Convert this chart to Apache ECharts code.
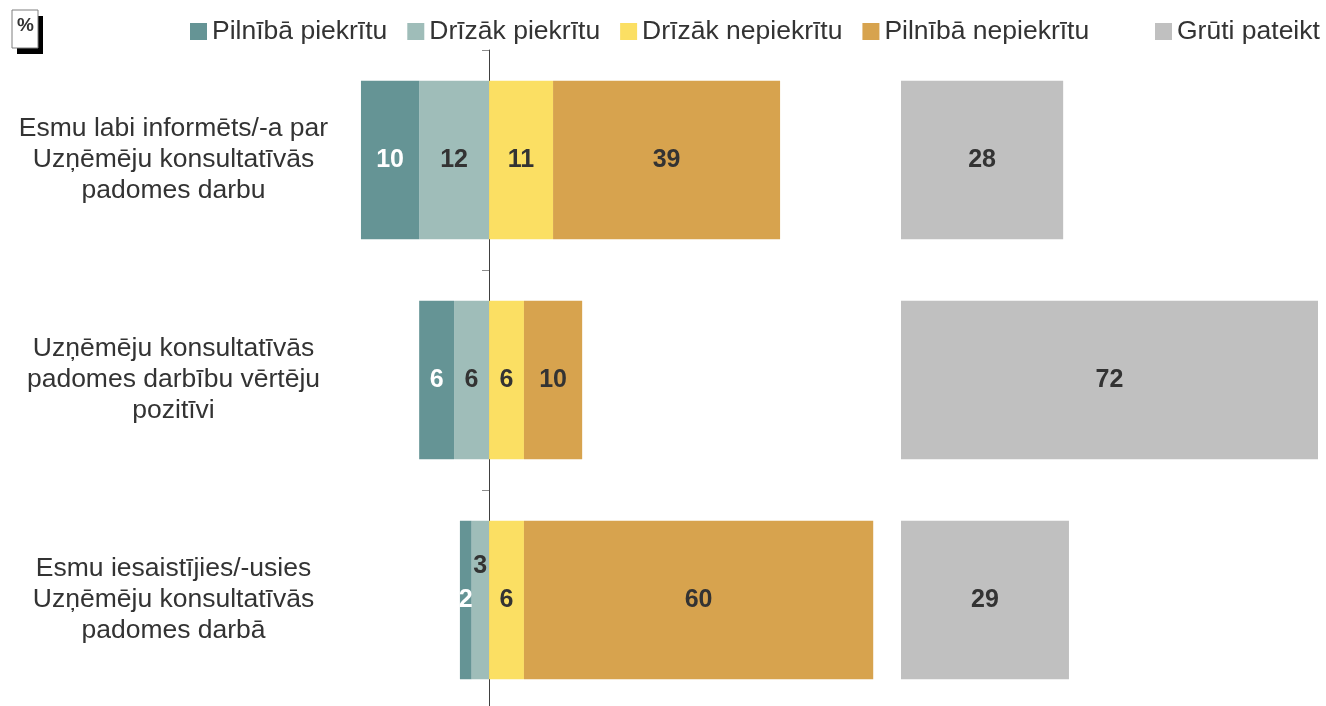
<!DOCTYPE html>
<html>
<head>
<meta charset="utf-8">
<script src="https://cdn.jsdelivr.net/npm/echarts@6/dist/echarts.min.js"></script>
<style>
  html, body { margin: 0; padding: 0; background: #ffffff; }
  #chart { width: 1326px; height: 706px; }
</style>
</head>
<body>
<div id="chart"></div>
<script>
// Statements (rows, top to bottom)
const categories = [
  'Esmu labi informēts/-a par\nUzņēmēju konsultatīvās\npadomes darbu',
  'Uzņēmēju konsultatīvās\npadomes darbību vērtēju\npozitīvi',
  'Esmu iesaistījies/-usies\nUzņēmēju konsultatīvās\npadomes darbā'
];

// Answer shares, %
const fullyAgree = [10, 6, 2];       // Pilnībā piekrītu
const ratherAgree = [12, 6, 3];      // Drīzāk piekrītu
const ratherDisagree = [11, 6, 6];   // Drīzāk nepiekrītu
const fullyDisagree = [39, 10, 60];  // Pilnībā nepiekrītu
const hardToSay = [28, 72, 29];      // Grūti pateikt

const seriesNames = ['Pilnībā piekrītu', 'Drīzāk piekrītu', 'Drīzāk nepiekrītu', 'Pilnībā nepiekrītu', 'Grūti pateikt'];

const FONT = '"Liberation Sans", Arial, sans-serif';
const TEXT = '#333333';
const colors = {
  fullyAgree: '#659495',
  ratherAgree: '#9fbdb9',
  ratherDisagree: '#fbdf63',
  fullyDisagree: '#d7a34e',
  hardToSay: '#c0c0c0'
};

const labelStyle = (color) => ({
  show: true,
  position: 'inside',
  color: color,
  fontFamily: FONT,
  fontWeight: 'bold',
  fontSize: 25,
  formatter: p => Math.abs(p.value)
});

// Very thin segments get their number lifted above the bar centre
const negData = arr => arr.map(v => v < 4 ? { value: -v, label: { offset: [0, -34] } } : -v);

const BAR_W = '72%';

const chart = echarts.init(document.getElementById('chart'), null, { renderer: 'canvas' });

const legendText = { fontFamily: FONT, fontSize: 26.5, color: TEXT };

chart.setOption({
  animation: false,
  backgroundColor: '#ffffff',
  textStyle: { fontFamily: FONT },
  legend: [
    {
      data: seriesNames.slice(0, 4),
      left: 190, top: 18, padding: 0,
      icon: 'rect', itemWidth: 17, itemHeight: 17, itemGap: 20,
      textStyle: legendText
    },
    {
      data: [seriesNames[4]],
      left: 1155, top: 18, padding: 0,
      icon: 'rect', itemWidth: 17, itemHeight: 17,
      textStyle: legendText
    }
  ],
  grid: [
    { left: 343.5, width: 553, top: 50, height: 660, containLabel: false, outerBoundsMode: 'none' },
    { left: 901, width: 417, top: 50, height: 660, containLabel: false, outerBoundsMode: 'none' }
  ],
  xAxis: [
    { gridIndex: 0, type: 'value', min: -25, max: 70, show: false },
    { gridIndex: 1, type: 'value', min: 0, max: 72, show: false }
  ],
  yAxis: [
    {
      gridIndex: 0, type: 'category', data: categories, inverse: true,
      axisLine: { show: true, onZero: true, lineStyle: { color: '#404040', width: 1 } },
      axisTick: { show: true, length: 7, lineStyle: { color: '#8c8c8c', width: 1 } },
      axisLabel: {
        margin: 170, align: 'center',
        fontFamily: FONT, fontSize: 26.5, lineHeight: 31, color: TEXT
      },
      splitLine: { show: false }
    },
    {
      gridIndex: 1, type: 'category', data: categories, inverse: true, show: false
    }
  ],
  series: [
    {
      name: seriesNames[1], type: 'bar', stack: 'agree', barWidth: BAR_W,
      xAxisIndex: 0, yAxisIndex: 0,
      itemStyle: { color: colors.ratherAgree },
      label: labelStyle(TEXT),
      data: negData(ratherAgree)
    },
    {
      name: seriesNames[0], type: 'bar', stack: 'agree', barWidth: BAR_W,
      xAxisIndex: 0, yAxisIndex: 0,
      itemStyle: { color: colors.fullyAgree },
      label: labelStyle('#ffffff'),
      data: fullyAgree.map(v => -v)
    },
    {
      name: seriesNames[2], type: 'bar', stack: 'agree', barWidth: BAR_W,
      xAxisIndex: 0, yAxisIndex: 0,
      itemStyle: { color: colors.ratherDisagree },
      label: labelStyle(TEXT),
      data: ratherDisagree
    },
    {
      name: seriesNames[3], type: 'bar', stack: 'agree', barWidth: BAR_W,
      xAxisIndex: 0, yAxisIndex: 0,
      itemStyle: { color: colors.fullyDisagree },
      label: labelStyle(TEXT),
      data: fullyDisagree
    },
    {
      name: seriesNames[4], type: 'bar', barWidth: BAR_W,
      xAxisIndex: 1, yAxisIndex: 1,
      itemStyle: { color: colors.hardToSay },
      label: labelStyle(TEXT),
      data: hardToSay
    }
  ],
  graphic: [
    { type: 'rect', shape: { x: 17, y: 16, width: 26, height: 38 }, style: { fill: '#000000' } },
    { type: 'rect', shape: { x: 12, y: 10, width: 26, height: 38 }, style: { fill: '#ffffff', stroke: '#7f7f7f', lineWidth: 1 } },
    {
      type: 'text', x: 25.5, y: 26,
      style: { text: '%', fontFamily: FONT, fontWeight: 'bold', fontSize: 19, fill: TEXT, align: 'center', verticalAlign: 'middle' }
    }
  ]
});
</script>
</body>
</html>
